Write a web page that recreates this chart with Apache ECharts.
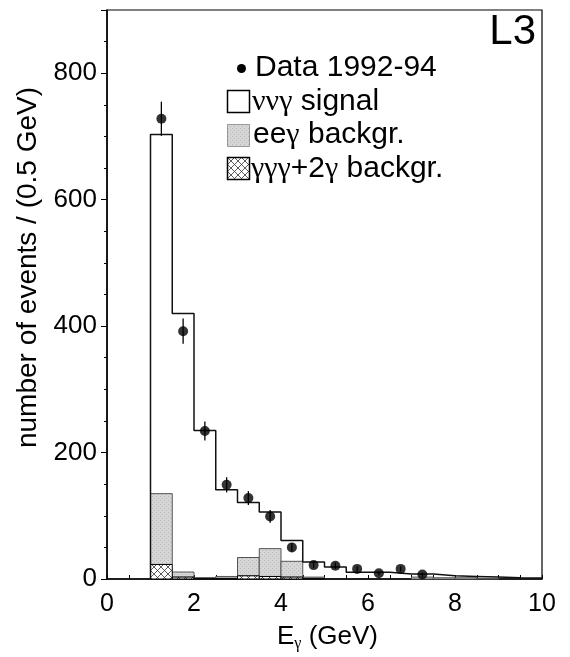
<!DOCTYPE html>
<html>
<head>
<meta charset="utf-8">
<script src="https://cdn.jsdelivr.net/npm/echarts@6/dist/echarts.min.js"></script>
<style>
html,body{margin:0;padding:0;background:#fff;}
#chart{width:570px;height:657px;}
</style>
</head>
<body>
<div id="chart"></div>
<script>
// ---- data ----
const binStarts = [1.0,1.5,2.0,2.5,3.0,3.5,4.0,4.5,5.0,5.5,6.0,6.5,7.0,7.5,8.0,8.5,9.0,9.5];
const binWidth = 0.5;
const signalTotal = [703,420,235,141,121,106,61,27,19,10.5,10.5,8,8,5,4,3,2,1.5];
const gggBackgr = [23,3,1,1,5,4,3,1,0,0,0,0,0,0,0,0,0,0];
const eegBackgr = [112,8,1,3,29,44,25,2,0,0,0,0,3,2,2,1,0,0];
const dataX = [1.25,1.75,2.25,2.75,3.25,3.75,4.25,4.75,5.25,5.75,6.25,6.75,7.25];
const dataY = [728,392,234,149,128,99,50,22,21,16,9,16,7];
const dataErr = [27,20,15,12,11,10,7,5,5,4,3,4,3];
const xTickLabels = [0,2,4,6,8,10];
const yTickLabels = [0,200,400,600,800];

const FONT = '"Liberation Sans", Arial, Helvetica, sans-serif';
const SERIF = '"Liberation Serif", "DejaVu Serif", serif';

// hatch pattern
function makeHatch(){
  const c = document.createElement('canvas');
  c.width = 7; c.height = 7;
  const g = c.getContext('2d');
  g.fillStyle = '#fff'; g.fillRect(0,0,7,7);
  g.strokeStyle = '#333'; g.lineWidth = 0.8;
  g.beginPath(); g.moveTo(0,0); g.lineTo(7,7); g.moveTo(7,0); g.lineTo(0,7); g.stroke();
  return c;
}
function makeGray(){
  const c = document.createElement('canvas');
  c.width = 4; c.height = 4;
  const g = c.getContext('2d');
  g.fillStyle = '#d6d6d6'; g.fillRect(0,0,4,4);
  g.fillStyle = '#b9b9b9'; g.fillRect(0,0,1,1); g.fillRect(2,2,1,1);
  return c;
}
const hatch = makeHatch();
const grayPat = makeGray();

// signal outline
const signalLine = [[binStarts[0],0]];
binStarts.forEach((x,i)=>signalLine.push([x, signalTotal[i]]));
signalLine.push([binStarts[binStarts.length-1]+binWidth, signalTotal[signalTotal.length-1]]);
signalLine.push([binStarts[binStarts.length-1]+binWidth, 0]);

const gggData = binStarts.map((x,i)=>[x, x+binWidth, 0, gggBackgr[i]]);
const eegData = binStarts.map((x,i)=>[x, x+binWidth, gggBackgr[i], gggBackgr[i]+eegBackgr[i]]);

function rectItem(fill, stroke){
  return function(params, api){
    const y0 = api.value(2), y1 = api.value(3);
    if (y1 <= y0) return null;
    const p0 = api.coord([api.value(0), y0]);
    const p1 = api.coord([api.value(1), y1]);
    return {type:'rect', shape:{x:p0[0], y:p1[1], width:p1[0]-p0[0], height:p0[1]-p1[1]},
      style:{fill:fill, stroke:stroke, lineWidth:1}};
  };
}

const chart = echarts.init(document.getElementById('chart'));
chart.setOption({
  animation:false,
  backgroundColor:'#fff',
  grid:{left:107, right:28, top:10, bottom:76, show:true, borderColor:'#000', borderWidth:1.2, backgroundColor:'transparent'},
  xAxis:{
    type:'value', min:0, max:10, interval:0.5,
    axisLine:{show:true, onZero:false, lineStyle:{color:'#000', width:1.5}},
    axisTick:{show:true, inside:true, length:4, lineStyle:{color:'#000', width:1}},
    splitLine:{show:false},
    axisLabel:{fontSize:25, color:'#000', fontFamily:FONT, margin:13,
      formatter:v=> xTickLabels.indexOf(v)>=0 ? String(v) : ''},
    name:'{e|E}{s|γ}{e| (GeV)}', nameLocation:'middle', nameGap:42,
    nameTextStyle:{color:'#000', fontFamily:FONT, fontSize:26, padding:[0,0,0,6],
      rich:{e:{fontSize:26, fontFamily:FONT, color:'#000'}, s:{fontSize:16, fontFamily:SERIF, color:'#000', padding:[15,0,0,0]}}}
  },
  yAxis:[{
    type:'value', min:0, max:900, interval:50, position:'left',
    axisLine:{show:true, onZero:false, lineStyle:{color:'#000', width:1.5}},
    axisTick:{show:true, inside:false, length:3, lineStyle:{color:'#000', width:1}},
    splitLine:{show:false},
    axisLabel:{fontSize:26, color:'#000', fontFamily:FONT, margin:10,
      formatter:v=> yTickLabels.indexOf(v)>=0 ? String(v) : ''},
    name:'number of events / (0.5 GeV)', nameLocation:'middle', nameGap:62,
    nameTextStyle:{color:'#000', fontFamily:FONT, fontSize:28, padding:[0,0,0,54]}
  },{
    type:'value', min:0, max:900, interval:200, position:'left', offset:0,
    axisLine:{show:false},
    axisTick:{show:true, inside:false, length:6, lineStyle:{color:'#000', width:1}},
    splitLine:{show:false},
    axisLabel:{show:false}
  }],
  series:[
    {type:'custom', name:'eeγ backgr.', data:eegData, renderItem:rectItem({image:grayPat, repeat:'repeat'}, '#555'), z:2},
    {type:'custom', name:'γγγ+2γ backgr.', data:gggData, renderItem:rectItem({image:hatch, repeat:'repeat'}, '#000'), z:3},
    {type:'line', name:'ννγ signal', data:signalLine, step:'end', showSymbol:false, symbol:'none',
      lineStyle:{color:'#111', width:1.5}, z:4},
    {type:'custom', name:'errors', data:dataX.map((x,i)=>[x, dataY[i]-dataErr[i], dataY[i]+dataErr[i]]), z:5,
      renderItem:function(params, api){
        const a = api.coord([api.value(0), api.value(1)]);
        const b = api.coord([api.value(0), api.value(2)]);
        return {type:'line', shape:{x1:a[0], y1:a[1], x2:b[0], y2:b[1]}, style:{stroke:'#000', lineWidth:1.3}};
      }},
    {type:'scatter', name:'Data 1992-94', data:dataX.map((x,i)=>[x, dataY[i]]), symbol:'circle', symbolSize:10,
      itemStyle:{color:'#000'}, z:6}
  ],
  graphic:[
    {type:'text', right:34, top:11, style:{text:'L3', font:'42px '+FONT, fill:'#000'}},
    {type:'circle', shape:{cx:241.5, cy:68.5, r:4.5}, style:{fill:'#000'}},
    {type:'text', x:255, y:68, style:{text:'Data 1992-94', font:'30px '+FONT, fill:'#000', verticalAlign:'middle'}},
    {type:'rect', shape:{x:227.5, y:90.5, width:22, height:22}, style:{fill:'#fff', stroke:'#000', lineWidth:1.5}},
    {type:'text', x:252, y:102, style:{text:'{g|ννγ} signal', font:'30px '+FONT, fill:'#000', verticalAlign:'middle',
      rich:{g:{fontFamily:SERIF, fontSize:30, fill:'#000'}}}},
    {type:'rect', shape:{x:227.5, y:124.5, width:22, height:22}, style:{fill:{image:grayPat, repeat:'repeat'}, stroke:'#999', lineWidth:1}},
    {type:'text', x:253, y:135, style:{text:'ee{g|γ} backgr.', font:'30px '+FONT, fill:'#000', verticalAlign:'middle',
      rich:{g:{fontFamily:SERIF, fontSize:30, fill:'#000'}}}},
    {type:'rect', shape:{x:227.5, y:157.5, width:22, height:22}, style:{fill:{image:hatch, repeat:'repeat'}, stroke:'#000', lineWidth:1.5}},
    {type:'text', x:251, y:169, style:{text:'{g|γγγ}+2{g|γ} backgr.', font:'30px '+FONT, fill:'#000', verticalAlign:'middle',
      rich:{g:{fontFamily:SERIF, fontSize:30, fill:'#000'}}}}
  ]
});
</script>
</body>
</html>
